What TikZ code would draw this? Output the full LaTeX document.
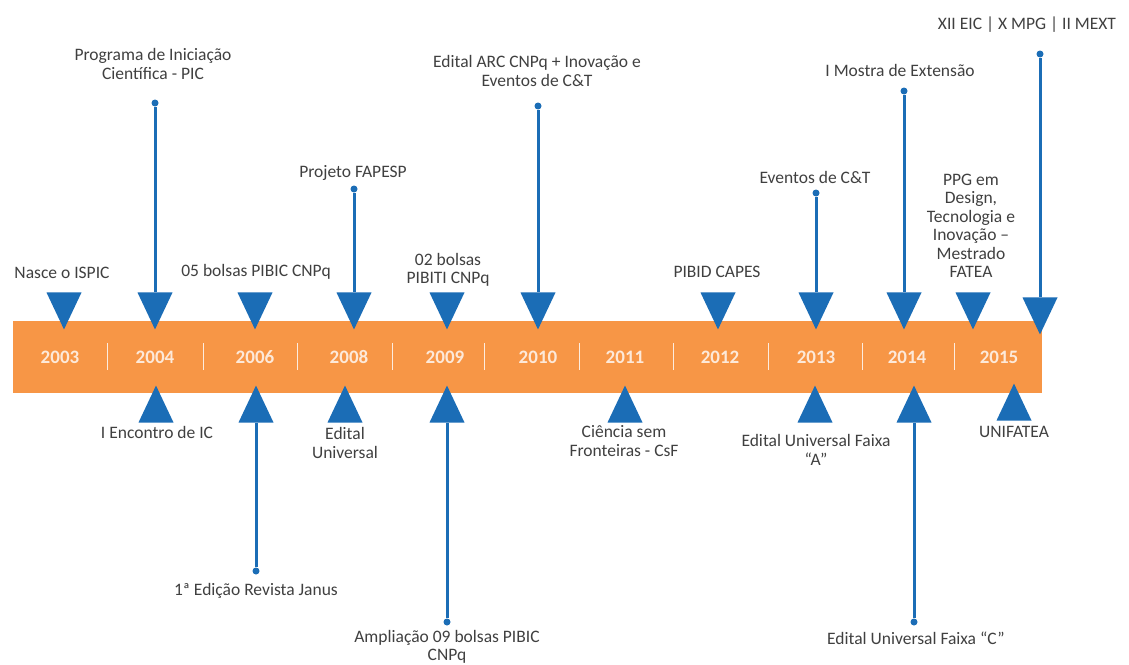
\documentclass[tikz,border=0pt]{standalone}
\usepackage{fontspec}
\setmainfont{Carlito}
\usepackage{xcolor}
\definecolor{cOrange}{HTML}{F79646}
\definecolor{cBlue}  {HTML}{1B6DB6}
\definecolor{cCream} {HTML}{FDE9D9}
\definecolor{cText}  {HTML}{404040}
\usetikzlibrary{shapes.geometric, positioning}
\tikzset{
  evt/.style  = {align=center, text=cText, inner sep=0pt,
                 font=\fontsize{17.5}{18.5}\selectfont},
  yr/.style   = {text=cCream, inner sep=0pt,
                 font=\fontsize{19}{19}\selectfont\bfseries},
  tdn/.style  = {isosceles triangle, isosceles triangle stretches,
                 shape border rotate=-90, fill=cBlue, inner sep=0pt,
                 minimum width=35pt, minimum height=37pt, anchor=apex},
  tup/.style  = {tdn, shape border rotate=90},
  dot/.style  = {circle, fill=cBlue, minimum size=7pt, inner sep=0pt},
  stem/.style = {draw=cBlue, line width=3pt},
  sep/.style  = {draw=cCream!85, line width=1pt},
}

\begin{document}
\begin{tikzpicture}[x=1pt, y=-1pt]

  \fill[white] (0,0) rectangle (1129,664);
  \useasboundingbox (0,0) rectangle (1129,664);

  %% --- bar and years ---
  \node[fill=cOrange, minimum width=1029pt, minimum height=72pt,
        inner sep=0pt, anchor=north west] (bar) at (13,321) {};
  \foreach \x in {107,203,297,392,484,579,673,768,862,954}
    \draw[sep] (\x,343) -- (\x,370);
  \foreach \x/\yy in {60/2003,155/2004,255/2006,349/2008,445/2009,
                      538/2010,625/2011,720/2012,816/2013,907/2014,999/2015}
    \node[yr] (y\yy) at (\x,357) {\yy};

  %% --- events above the bar ---
  \node[tdn] (dn2003) at (64,330) {};
  \node[tdn] (dn2004) at (155,330) {};
  \node[tdn] (dn2006) at (255,330) {};
  \node[tdn] (dn2008) at (354,330) {};
  \node[tdn] (dn2009) at (447,330) {};
  \node[tdn] (dn2010) at (538,330) {};
  \node[tdn] (dn2012) at (718,330) {};
  \node[tdn] (dn2013) at (816,330) {};
  \node[tdn] (dn2014) at (904,330) {};
  \node[tdn] (dn2015) at (973,330) {};
  \node[tdn] (dnEnd)  at (1040,335) {};

  \node[dot] (d2004) at (155,103) {};
  \node[dot] (d2008) at (354,189) {};
  \node[dot] (d2010) at (538,106) {};
  \node[dot] (d2013) at (816,193) {};
  \node[dot] (d2014) at (904,91) {};
  \node[dot] (dEnd)  at (1040,54) {};

  \node[evt] (nasce) at (62,273)  {Nasce o ISPIC};
  \node[evt] (pic)   at (153,64)  {Programa de Iniciação\\Científica - PIC};
  \node[evt] (pibic) at (256,272) {05 bolsas PIBIC CNPq};
  \node[evt] (fapesp) at (353,173) {Projeto FAPESP};
  \node[evt] (pibiti) at (448,270) {02 bolsas\\PIBITI CNPq};
  \node[evt] (arc)   at (537,71)  {Edital ARC CNPq + Inovação e\\Eventos de C\&T};
  \node[evt] (pibid) at (717,272) {PIBID CAPES};
  \node[evt] (ct)    at (815,177) {Eventos de C\&T};
  \node[evt] (mostra) at (900,70) {I Mostra de Extensão};
  \node[evt] (ppg)   at (971,226) {PPG em\\Design,\\Tecnologia e\\Inovação –\\Mestrado\\FATEA};
  \node[evt] (xii)   at (1027,25) {XII EIC | X MPG | II MEXT};

  %% --- events below the bar ---
  \node[tup] (up2004) at (156,385) {};
  \node[tup] (up2006) at (256,385) {};
  \node[tup] (up2008) at (345,385) {};
  \node[tup] (up2009) at (447,385) {};
  \node[tup] (up2011) at (625,385) {};
  \node[tup] (up2013) at (815,385) {};
  \node[tup] (up2014) at (914,385) {};
  \node[tup] (up2015) at (1014,383) {};

  \node[dot] (d2006b) at (256,571) {};
  \node[dot] (d2009b) at (447,622) {};
  \node[dot] (d2014b) at (914,622) {};

  \node[evt] (encontro) at (157,432) {I Encontro de IC};
  \node[evt] (janus)  at (256,591) {1ª Edição Revista Janus};
  \node[evt] (univ)   at (345,443) {Edital\\Universal};
  \node[evt] (ampl)   at (447,647) {Ampliação 09 bolsas PIBIC\\CNPq};
  \node[evt] (csf)    at (624,441) {Ciência sem\\Fronteiras - CsF};
  \node[evt] (faixaA) at (816,450) {Edital Universal Faixa\\“A”};
  \node[evt] (faixaC) at (916,638) {Edital Universal Faixa “C”};
  \node[evt] (unifatea) at (1014,432) {UNIFATEA};

  %% --- stems ---
  \draw[stem] (d2004) -- (dn2004);
  \draw[stem] (d2008) -- (dn2008);
  \draw[stem] (d2010) -- (dn2010);
  \draw[stem] (d2013) -- (dn2013);
  \draw[stem] (d2014) -- (dn2014);
  \draw[stem] (dEnd)  -- (dnEnd);
  \draw[stem] (d2006b) -- (up2006);
  \draw[stem] (d2009b) -- (up2009);
  \draw[stem] (d2014b) -- (up2014);

\end{tikzpicture}
\end{document}
